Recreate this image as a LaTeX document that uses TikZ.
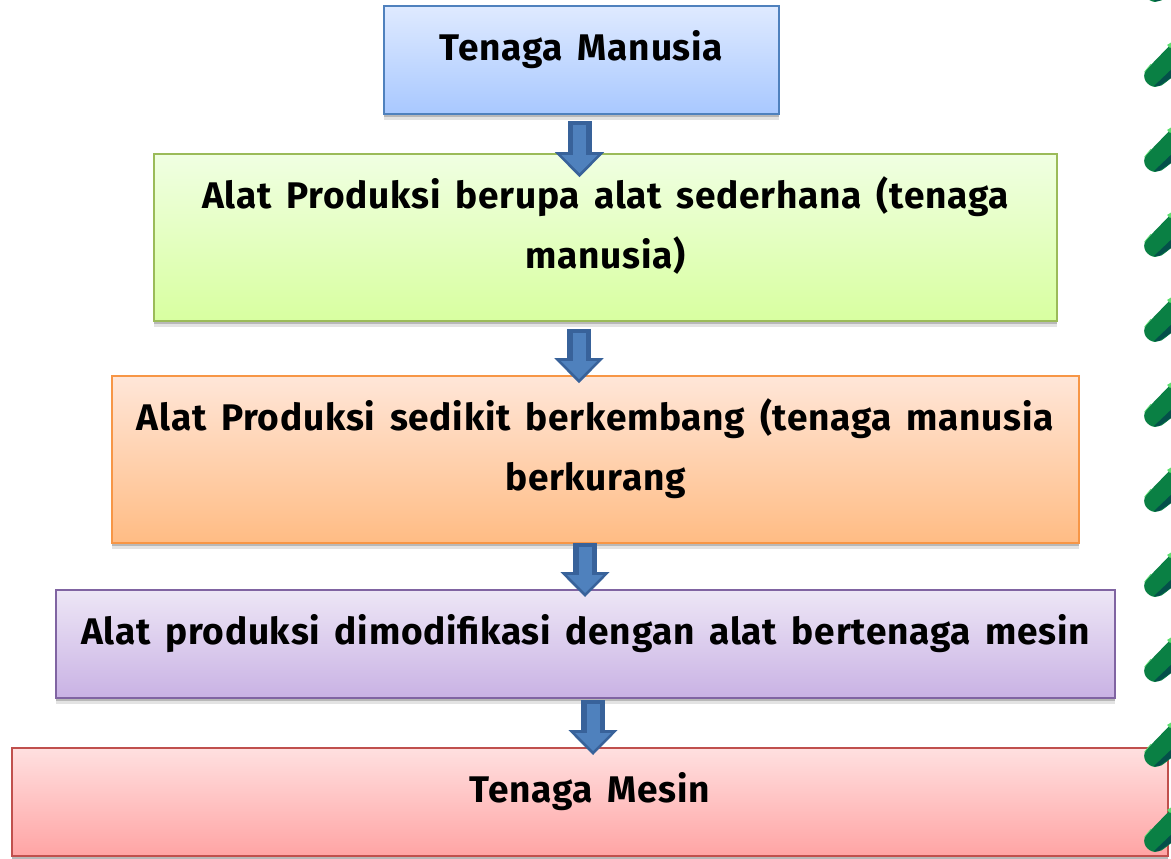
\documentclass[tikz,border=0pt]{standalone}
\usepackage{fontspec}
\usepackage{tikz}
\usetikzlibrary{arrows.meta,shadows}
\setmainfont{Fira Sans}[BoldFont={Fira Sans Bold},WordSpace=1.55,LetterSpace=2]
\definecolor{blueline}{HTML}{4F81BD}
\definecolor{bluetop}{HTML}{DFEAFF}
\definecolor{bluebot}{HTML}{A8C8FF}
\definecolor{greenline}{HTML}{9BBB59}
\definecolor{greentop}{HTML}{F0FFE2}
\definecolor{greenbot}{HTML}{D8FFA0}
\definecolor{orangeline}{HTML}{F79646}
\definecolor{orangetop}{HTML}{FFE6D8}
\definecolor{orangebot}{HTML}{FFBC84}
\definecolor{purpleline}{HTML}{8064A2}
\definecolor{purpletop}{HTML}{EDE6F6}
\definecolor{purplebot}{HTML}{C9B2E4}
\definecolor{redline}{HTML}{C0504D}
\definecolor{redtop}{HTML}{FFE0E0}
\definecolor{redbot}{HTML}{FFA4A4}
\definecolor{arrowdark}{HTML}{38629A}
\definecolor{pillgreen}{HTML}{0A8044}
\definecolor{pilldark}{HTML}{04504A}
\definecolor{pilllight}{HTML}{5CE070}
\tikzset{
	stage/.style={draw, line width=1.5pt, align=center, inner sep=0pt,
		font=\fontsize{27.8}{45.5}\selectfont\bfseries,
		drop shadow={shadow xshift=0pt, shadow yshift=-4.5pt, opacity=.18, fill=black!60},
		drop shadow={shadow xshift=0pt, shadow yshift=-2.5pt, opacity=.35, fill=black!60},
		execute at end node={\rule[-22.5pt]{0pt}{0pt}}},
	flowout/.style={draw=arrowdark, line width=18pt, -{Triangle[length=18.75pt,width=37pt,line width=0pt]}},
	flowin/.style={draw=blueline, line width=9.75pt, -{Triangle[length=13.5pt,width=27pt,line width=0pt]}},
}
\begin{document}
\begin{tikzpicture}[x=0.75pt,y=-0.75pt]
	\clip (0,0) rectangle (1171,859);

	\node[stage, minimum width=296pt, minimum height=81pt, draw=blueline, top color=bluetop, bottom color=bluebot] (manusia) at (581.5,60) {Tenaga Manusia};
	\node[stage, minimum width=677pt, minimum height=125pt, draw=greenline, top color=greentop, bottom color=greenbot] (sederhana) at (605.5,237.5) {Alat Produksi berupa alat sederhana (tenaga\\manusia)};
	\node[stage, minimum width=725pt, minimum height=125pt, draw=orangeline, top color=orangetop, bottom color=orangebot] (berkembang) at (595.5,459.5) {Alat Produksi sedikit berkembang (tenaga manusia\\berkurang};
	\node[stage, minimum width=794pt, minimum height=81pt, draw=purpleline, top color=purpletop, bottom color=purplebot] (modifikasi) at (585.5,644) {Alat produksi dimodifikasi dengan alat bertenaga mesin};
	\node[stage, minimum width=867pt, minimum height=81pt, draw=redline, top color=redtop, bottom color=redbot] (mesin) at (589.5,802) {Tenaga Mesin};

	\foreach \x/\a/\b/\s/\e in {579.5/manusia/sederhana/4.5/18, 579/sederhana/berkembang/5.25/6, 585/berkembang/modifikasi/-0.75/6, 593/modifikasi/mesin/0.75/6}{
		\coordinate (top) at (\x,0);
		\draw[flowout, shorten <=\s pt, shorten >=-\e pt] (top |- \a.south) -- (top |- \b.north);
		\draw[flowin, shorten <=\s pt+3pt, shorten >=-\e pt+3pt] (top |- \a.south) -- (top |- \b.north);
	}

	\foreach \y in {2,87,172,257,342,427,512,597,682,767,852}{
		\fill[pillgreen] (1175,\y-47) -- (1146,\y-17) .. controls (1141,\y-9) and (1147,\y-1) .. (1155,\y) .. controls (1160,\y) .. (1175,\y-12) -- cycle;
		\fill[pilldark] (1154,\y-1) -- (1175,\y-21) -- (1175,\y-12) -- (1159,\y-1) -- cycle;
		\fill[pilllight] (1167,\y-42) -- (1175,\y-47) -- (1175,\y-44) -- (1170,\y-39) -- cycle;
		\draw[pilllight, line width=.5pt] (1144.5,\y-15) -- (1151,\y-23);
	}
\end{tikzpicture}
\end{document}
